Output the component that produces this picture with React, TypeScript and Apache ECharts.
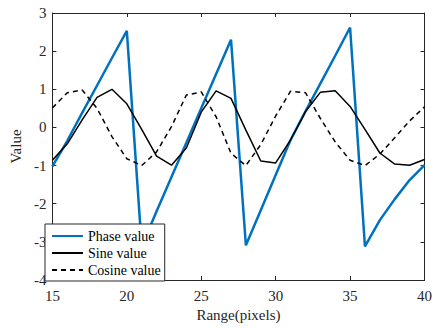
import React, { useEffect, useRef } from "react";
import * as echarts from "echarts";

const xValues = [15, 16, 17, 18, 19, 20, 21, 22, 23, 24, 25, 26, 27, 28, 29, 30, 31, 32, 33, 34, 35, 36, 37, 38, 39, 40];
const phaseValues = [-1.02, -0.35, 0.38, 1.1, 1.82, 2.53, -3.12, -2.2, -1.3, -0.4, 0.5, 1.4, 2.3, -3.09, -2.17, -1.25, -0.33, 0.42, 1.15, 1.88, 2.62, -3.12, -2.43, -1.88, -1.38, -0.99];
const sineValues = [-0.86, -0.43, 0.2, 0.79, 1.0, 0.62, -0.05, -0.75, -0.99, -0.54, 0.4, 0.96, 0.76, -0.07, -0.88, -0.93, -0.33, 0.41, 0.92, 0.96, 0.55, -0.05, -0.67, -0.96, -0.99, -0.84];
const cosineValues = [0.51, 0.91, 0.98, 0.5, -0.24, -0.82, -1.0, -0.64, 0.02, 0.85, 0.93, 0.28, -0.68, -1.0, -0.45, 0.3, 0.95, 0.91, 0.24, -0.38, -0.86, -1.0, -0.7, -0.27, 0.17, 0.54];
const seriesNames = ["Phase value", "Sine value", "Cosine value"];
const xTitle = "Range(pixels)";
const yTitle = "Value";

const FONT = "Liberation Serif";
const AXIS_COLOR = "#262626";

export default function App() {
  const ref = useRef<HTMLDivElement>(null);
  useEffect(() => {
    if (!ref.current) return;
    const chart = echarts.init(ref.current, null, { renderer: "svg" });
    const pairs = (ys: number[]) => xValues.map((x, i) => [x, ys[i]]);
    const axisCommon = {
      axisLine: { show: true, onZero: false, lineStyle: { color: AXIS_COLOR, width: 1 } },
      axisTick: { show: true, inside: true, length: 4, lineStyle: { color: AXIS_COLOR } },
      splitLine: { show: false },
    };
    chart.setOption({
      animation: false,
      backgroundColor: "#ffffff",
      textStyle: { fontFamily: FONT },
      grid: { left: 45, right: 7, top: 13, bottom: 48, containLabel: false },
      legend: {
        orient: "vertical",
        left: 45,
        top: 224,
        data: seriesNames,
        itemWidth: 31,
        itemHeight: 14,
        itemGap: 3,
        padding: [5, 4, 4, 6],
        borderColor: AXIS_COLOR,
        borderWidth: 1,
        borderRadius: 0,
        backgroundColor: "#ffffff",
        itemStyle: { opacity: 0 },
        textStyle: { fontFamily: FONT, fontSize: 14, color: "#000" },
      },
      xAxis: [
        {
          type: "value",
          min: 15,
          max: 40,
          interval: 5,
          position: "bottom",
          ...axisCommon,
          axisLabel: { fontFamily: FONT, fontSize: 15, color: AXIS_COLOR, margin: 8 },
          name: xTitle,
          nameLocation: "middle",
          nameGap: 26,
          nameTextStyle: { fontFamily: FONT, fontSize: 15, color: AXIS_COLOR },
        },
        {
          type: "value",
          min: 15,
          max: 40,
          interval: 5,
          position: "top",
          ...axisCommon,
          axisLabel: { show: false },
        },
      ],
      yAxis: [
        {
          type: "value",
          min: -4,
          max: 3,
          interval: 1,
          position: "left",
          ...axisCommon,
          axisLabel: { fontFamily: FONT, fontSize: 15, color: AXIS_COLOR, margin: 6 },
          name: yTitle,
          nameLocation: "middle",
          nameGap: 25,
          nameTextStyle: { fontFamily: FONT, fontSize: 15, color: AXIS_COLOR },
        },
        {
          type: "value",
          min: -4,
          max: 3,
          interval: 1,
          position: "right",
          ...axisCommon,
          axisLabel: { show: false },
        },
      ],
      series: [
        {
          name: seriesNames[0],
          type: "line",
          data: pairs(phaseValues),
          showSymbol: false,
          symbol: "none",
          lineStyle: { color: "#0072BD", width: 2.5 },
          itemStyle: { color: "#0072BD" },
        },
        {
          name: seriesNames[1],
          type: "line",
          data: pairs(sineValues),
          showSymbol: false,
          symbol: "none",
          lineStyle: { color: "#000000", width: 1.5 },
          itemStyle: { color: "#000000" },
        },
        {
          name: seriesNames[2],
          type: "line",
          data: pairs(cosineValues),
          showSymbol: false,
          symbol: "none",
          lineStyle: { color: "#000000", width: 1.5, type: [5, 4] },
          itemStyle: { color: "#000000" },
        },
      ],
    });
    return () => chart.dispose();
  }, []);
  return (
    <div
      ref={ref}
      style={{ position: "absolute", left: 0, top: 0, width: 435, height: 328 }}
    />
  );
}
